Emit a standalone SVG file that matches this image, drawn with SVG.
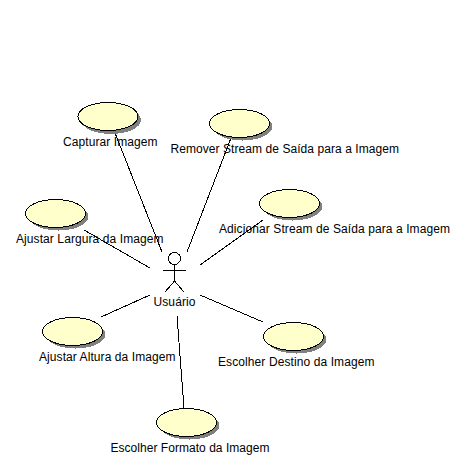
<svg xmlns="http://www.w3.org/2000/svg" width="462" height="465" viewBox="0 0 462 465">
<style>
text{font-family:"Liberation Sans",Arial,sans-serif;font-size:12px;fill:#000}
.s{fill:#808080;stroke:none;shape-rendering:crispEdges}
.u{fill:#ffffcc;stroke:#000;stroke-width:1;shape-rendering:crispEdges}
line,.a{stroke:#000;stroke-width:1;fill:none;shape-rendering:crispEdges}
</style>
<rect width="462" height="465" fill="#fff"/>
<g id="connectors">
<line x1="115" y1="133" x2="162" y2="252"/>
<line x1="231" y1="138" x2="187" y2="252"/>
<line x1="84" y1="230" x2="150" y2="268"/>
<line x1="263" y1="220" x2="200" y2="265"/>
<line x1="101" y1="317" x2="150" y2="295"/>
<line x1="177" y1="316" x2="184" y2="408"/>
<line x1="200" y1="295" x2="263" y2="322"/>
</g>
<g id="uc-capturar"><ellipse class="s" cx="111" cy="120" rx="30" ry="14"/><ellipse class="u" cx="108" cy="116.500" rx="30" ry="14"/><text x="63" y="146" textLength="94.500">Capturar Imagem</text></g>
<g id="uc-remover"><ellipse class="s" cx="242.500" cy="126.500" rx="30" ry="14"/><ellipse class="u" cx="239.500" cy="123.500" rx="30" ry="14"/><text x="170.500" y="153" textLength="228.500">Remover Stream de Saída para a Imagem</text></g>
<g id="uc-adicionar"><ellipse class="s" cx="292.500" cy="206.500" rx="30" ry="14"/><ellipse class="u" cx="289.500" cy="203.500" rx="30" ry="14"/><text x="219" y="233" textLength="231">Adicionar Stream de Saída para a Imagem</text></g>
<g id="uc-largura"><ellipse class="s" cx="58.500" cy="216.500" rx="30" ry="14"/><ellipse class="u" cx="55.500" cy="213.500" rx="30" ry="14"/><text x="16" y="243" textLength="147.500">Ajustar Largura da Imagem</text></g>
<g id="uc-altura"><ellipse class="s" cx="75.500" cy="334.500" rx="30" ry="14"/><ellipse class="u" cx="72.500" cy="331.500" rx="30" ry="14"/><text x="39" y="361" textLength="136.500">Ajustar Altura da Imagem</text></g>
<g id="uc-formato"><ellipse class="s" cx="189.500" cy="425.500" rx="30" ry="14"/><ellipse class="u" cx="186.500" cy="422.500" rx="30" ry="14"/><text x="110.500" y="452" textLength="159">Escolher Formato da Imagem</text></g>
<g id="uc-destino"><ellipse class="s" cx="296.500" cy="339.500" rx="30" ry="14"/><ellipse class="u" cx="293.500" cy="336.500" rx="30" ry="14"/><text x="218" y="366" textLength="156.500">Escolher Destino da Imagem</text></g>
<g id="actor-usuario">
<circle class="a" cx="174.500" cy="258.500" r="6"/>
<path class="a" d="M174.500 264.500V281M163 270.500H186M174.500 281L165 292M174.500 281L184 292"/>
<text x="153.500" y="306" textLength="42">Usuário</text>
</g>
</svg>
